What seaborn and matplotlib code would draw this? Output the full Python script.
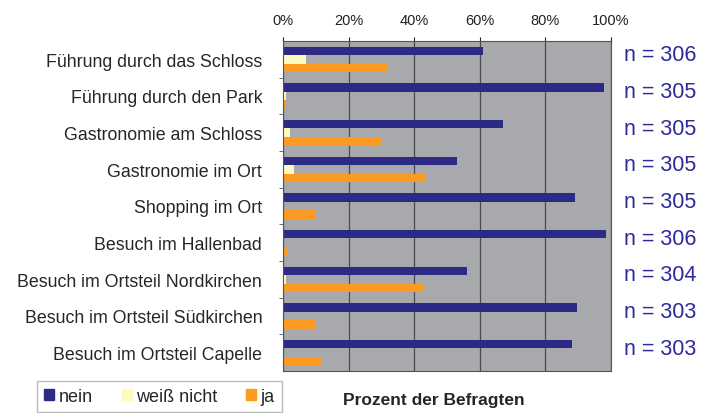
import pandas as pd
import seaborn as sns
import matplotlib.pyplot as plt
from matplotlib.ticker import PercentFormatter, FixedLocator

categories = ["Führung durch das Schloss", "Führung durch den Park", "Gastronomie am Schloss",
              "Gastronomie im Ort", "Shopping im Ort", "Besuch im Hallenbad",
              "Besuch im Ortsteil Nordkirchen", "Besuch im Ortsteil Südkirchen",
              "Besuch im Ortsteil Capelle"]
nein = [61, 98, 67, 53, 89, 98.5, 56, 89.5, 88]
weiss_nicht = [7, 1, 2, 3.5, 0, 0, 1, 0, 0]
ja = [32, 1, 30, 43.5, 10, 1.5, 43, 10, 11.5]
n_values = [306, 305, 305, 305, 305, 306, 304, 303, 303]
groups = ["nein", "weiß nicht", "ja"]

sns.set_style("white")
plt.rcParams['font.family'] = ['Liberation Sans', 'DejaVu Sans']

df = pd.DataFrame({"Kategorie": categories, "nein": nein, "weiß nicht": weiss_nicht, "ja": ja})
long = df.melt(id_vars="Kategorie", value_vars=groups, var_name="Antwort", value_name="Prozent")

fig = plt.figure(figsize=(7.18, 4.14), dpi=100)
ax = fig.add_axes([283 / 718, 1 - 372 / 414, 328 / 718, 330 / 414])

palette = {"nein": "#2d2a86", "weiß nicht": "#fbfbbf", "ja": "#fd9a22"}
sns.barplot(data=long, y="Kategorie", x="Prozent", hue="Antwort", hue_order=groups,
            order=categories, palette=palette, orient="h", width=0.7, saturation=1,
            linewidth=0, ax=ax, legend=False)

ax.set_facecolor("#a7a9ac")
ax.set_xlim(0, 100)
ax.set_ylim(len(categories) - 0.5, -0.5)
ax.xaxis.set_major_formatter(PercentFormatter(decimals=0))
ax.set_xticks([0, 20, 40, 60, 80, 100])
ax.xaxis.tick_top()
ax.tick_params(axis="x", length=3, pad=7, labelsize=10.5, colors="#222222")
ax.tick_params(axis="y", which="major", length=0, pad=15, labelsize=12.8)
ax.yaxis.set_minor_locator(FixedLocator([i + 0.5 for i in range(len(categories) - 1)]))
ax.tick_params(axis="y", which="minor", left=True, length=3, color="#555555")
ax.grid(axis="x", color="#4a4a4a", linewidth=0.9)
ax.set_axisbelow(True)
for s in ax.spines.values():
    s.set_color("#555555")
    s.set_linewidth(0.8)
ax.set_xlabel("")
ax.set_ylabel("")

for i, n in enumerate(n_values):
    ax.text(1.04, i - 0.12, f"n = {n}", transform=ax.get_yaxis_transform(),
            color="#2d2a9a", fontsize=15.5, va="center", ha="left")

handles = [plt.Rectangle((0, 0), 1, 1, color=palette[g]) for g in groups]
fig.legend(handles, groups, loc="lower left", bbox_to_anchor=(28 / 718, -0.02), ncol=3,
           frameon=True, fancybox=False, edgecolor="#aaaaaa", fontsize=13,
           handlelength=0.55, handleheight=0.55, handletextpad=0.25, columnspacing=1.6,
           borderpad=0.4)
fig.text(434 / 718, 1 - 401 / 414, "Prozent der Befragten", ha="center", va="center",
         fontsize=12.5, fontweight="bold")

fig.savefig("out.png", dpi=100)
